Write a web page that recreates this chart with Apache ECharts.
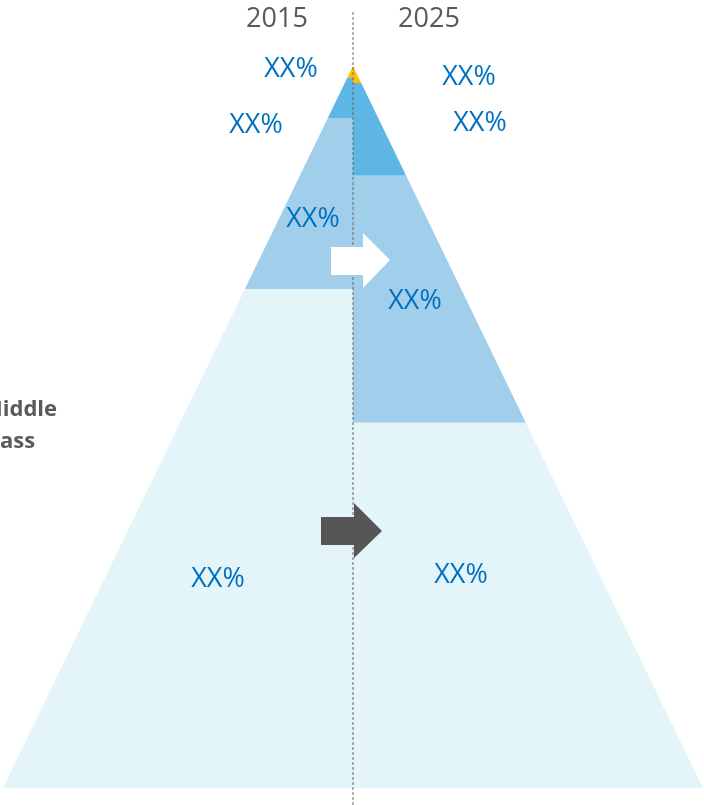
<!DOCTYPE html>
<html>
<head>
<meta charset="utf-8">
<script src="https://cdn.jsdelivr.net/npm/echarts@6/dist/echarts.min.js"></script>
<style>html,body{margin:0;padding:0;background:#fff;}#c{width:704px;height:805px;}</style>
</head>
<body>
<div id="c"></div>
<script>
// ---- data ----
const years = ['2015', '2025'];
const layerNames = ['Top', 'Upper', 'Upper middle', 'Middle class'];
// cumulative depth of each layer's lower edge, as fraction of pyramid height from apex
const bounds2015 = [0.0166, 0.072, 0.309, 1.0];
const bounds2025 = [0.0235, 0.152, 0.494, 1.0];
const shareLabels2015 = ['XX%', 'XX%', 'XX%', 'XX%'];
const shareLabels2025 = ['XX%', 'XX%', 'XX%', 'XX%'];
const sideLabel = ['Middle', 'class'];

// ---- styles ----
const layerColors = ['#FFC000', '#5DB6E3', '#A1CFEB', '#E3F5F8'];
const labelFont = '"Open Sans", sans-serif';

function buildSegments(bounds, side) {
  const out = [];
  let prev = 0;
  bounds.forEach((b, i) => { out.push([side, prev, b, i]); prev = b; });
  return out;
}
const segData = buildSegments(bounds2015, -1).concat(buildSegments(bounds2025, 1));

const chart = echarts.init(document.getElementById('c'), null, {renderer: 'canvas'});

function labelText(txt, x, y) {
  return {type: 'text', x: x, y: y, z: 20,
    style: {text: txt, fill: '#0070C0', font: '27px ' + labelFont, align: 'center', verticalAlign: 'middle'}};
}
const labelPos2015 = [[291, 69], [256, 125], [313, 219], [218, 579]];
const labelPos2025 = [[469, 77], [480, 123], [415, 301], [461, 575]];

const graphics = [
  {type: 'line', z: 5, shape: {x1: 353, y1: 12, x2: 353, y2: 805},
   style: {stroke: '#666666', lineWidth: 1, lineDash: [3, 2]}},
  {type: 'polygon', z: 10, shape: {points: [[331,247],[363,247],[363,233],[390,260],[363,288],[363,275],[331,275]]},
   style: {fill: '#FFFFFF'}},
  {type: 'polygon', z: 10, shape: {points: [[321,517],[354,517],[354,503],[382,531],[354,558],[354,545],[321,545]]},
   style: {fill: '#565656'}},
  {type: 'text', x: 277, y: 19, z: 20, style: {text: years[0], fill: '#595959', font: '27px ' + labelFont, align: 'center', verticalAlign: 'middle'}},
  {type: 'text', x: 429, y: 19, z: 20, style: {text: years[1], fill: '#595959', font: '27px ' + labelFont, align: 'center', verticalAlign: 'middle'}},
  {type: 'text', x: -18, y: 410, z: 20, style: {text: sideLabel[0], fill: '#595959', font: 'bold 22px ' + labelFont, align: 'left', verticalAlign: 'middle'}},
  {type: 'text', x: -18, y: 442, z: 20, style: {text: sideLabel[1], fill: '#595959', font: 'bold 22px ' + labelFont, align: 'left', verticalAlign: 'middle'}}
];
shareLabels2015.forEach((t, i) => graphics.push(labelText(t, labelPos2015[i][0], labelPos2015[i][1])));
shareLabels2025.forEach((t, i) => graphics.push(labelText(t, labelPos2025[i][0], labelPos2025[i][1])));

chart.setOption({
  animation: false,
  grid: {left: 3, right: 1, top: 66, bottom: 17},
  xAxis: {type: 'value', min: -1, max: 1, show: false},
  yAxis: {type: 'value', min: 0, max: 1, inverse: true, show: false},
  series: [{
    type: 'custom',
    data: segData,
    renderItem: function (params, api) {
      const side = api.value(0), d0 = api.value(1), d1 = api.value(2), li = api.value(3);
      const pts = [[0, d0], [side * d0, d0], [side * d1, d1], [0, d1]].map(p => api.coord(p));
      return {type: 'polygon', shape: {points: pts}, style: {fill: layerColors[li]}};
    },
    silent: true
  }],
  graphic: graphics
});
</script>
</body>
</html>
